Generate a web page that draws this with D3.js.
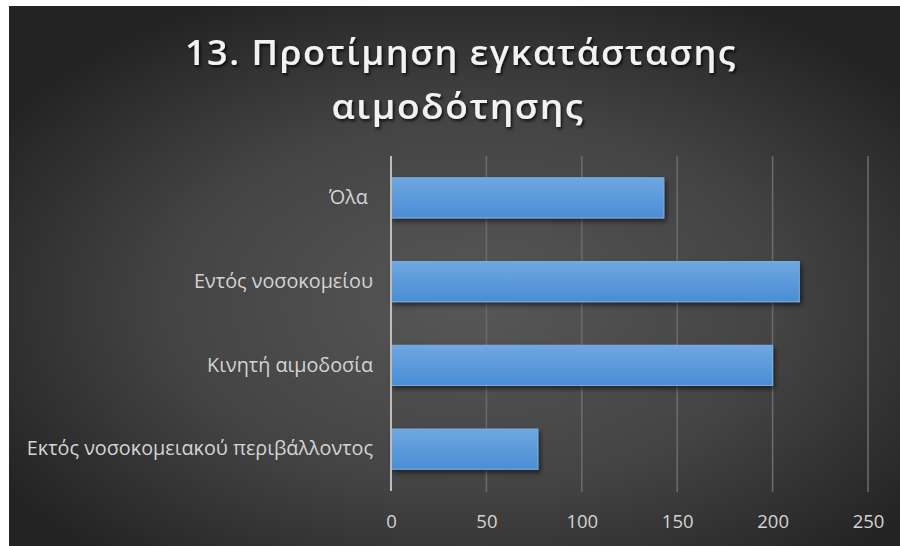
<!DOCTYPE html>
<html>
<head>
<meta charset="utf-8">
<script src="https://cdn.jsdelivr.net/npm/d3@7"></script>
<style>
  html, body { margin: 0; padding: 0; background: #ffffff; }
  svg { display: block; }
  .cat text { white-space: pre; }
</style>
</head>
<body>
<svg id="chart" width="900" height="546"></svg>
<script>
// Survey question 13: preferred blood-donation setting
const categories = ["Όλα ", "Εντός νοσοκομείου", "Κινητή αιμοδοσία", "Εκτός νοσοκομειακού περιβάλλοντος"];
const counts = [143, 214, 200, 77];
const tickValues = [0, 50, 100, 150, 200, 250];
const titleLines = ["13. Προτίμηση εγκατάστασης", "αιμοδότησης"];

const W = 900, H = 546;
const panel = { x: 9, y: 6, w: W - 9, h: H - 6 };
const plot = { left: 391, right: 868, top: 156, bottom: 491 };
const font = "'Open Sans', 'Noto Sans', sans-serif";

const svg = d3.select("#chart");
const defs = svg.append("defs");

// background: soft radial light in the middle, dark towards the edges
const bg = defs.append("radialGradient").attr("id", "bgGrad")
  .attr("cx", "52%").attr("cy", "55%").attr("r", "62%");
bg.append("stop").attr("offset", "0%").attr("stop-color", "#575757");
bg.append("stop").attr("offset", "55%").attr("stop-color", "#444444");
bg.append("stop").attr("offset", "100%").attr("stop-color", "#242424");

// bar fill: lighter top, deeper bottom
const barGrad = defs.append("linearGradient").attr("id", "barGrad")
  .attr("x1", 0).attr("y1", 0).attr("x2", 0).attr("y2", 1);
barGrad.append("stop").attr("offset", "0%").attr("stop-color", "#6fa7e0");
barGrad.append("stop").attr("offset", "100%").attr("stop-color", "#4a8dd4");

const barShadow = defs.append("filter").attr("id", "barShadow")
  .attr("x", "-5%").attr("y", "-20%").attr("width", "115%").attr("height", "160%");
barShadow.append("feDropShadow").attr("dx", 2).attr("dy", 3).attr("stdDeviation", 2.5)
  .attr("flood-color", "#000").attr("flood-opacity", 0.55);

const textShadow = defs.append("filter").attr("id", "textShadow")
  .attr("x", "-5%").attr("y", "-20%").attr("width", "110%").attr("height", "150%");
textShadow.append("feDropShadow").attr("dx", 1.5).attr("dy", 2).attr("stdDeviation", 1.5)
  .attr("flood-color", "#000").attr("flood-opacity", 0.8);

svg.append("rect")
  .attr("x", panel.x).attr("y", panel.y).attr("width", panel.w).attr("height", panel.h)
  .attr("fill", "url(#bgGrad)");

// title
const title = svg.append("g").attr("filter", "url(#textShadow)")
  .attr("fill", "#f2f2f2")
  .attr("font-family", font)
  .attr("font-weight", 600)
  .attr("text-anchor", "middle");
title.append("text").attr("x", 461).attr("y", 65)
  .attr("font-size", 35).attr("letter-spacing", 1.5)
  .attr("textLength", 552).attr("lengthAdjust", "spacingAndGlyphs")
  .text(titleLines[0]);
title.append("text").attr("x", 458).attr("y", 119)
  .attr("font-size", 35).attr("letter-spacing", 1.5)
  .attr("textLength", 253).attr("lengthAdjust", "spacingAndGlyphs")
  .text(titleLines[1]);

// scales
const x = d3.scaleLinear().domain([0, 250]).range([plot.left, plot.right]);
const y = d3.scaleBand().domain(categories).range([plot.top, plot.bottom])
  .paddingInner(0.52).paddingOuter(0.26);

// vertical gridlines
svg.append("g")
  .selectAll("line").data(tickValues.filter(d => d > 0)).join("line")
  .attr("x1", d => x(d)).attr("x2", d => x(d))
  .attr("y1", plot.top).attr("y2", plot.bottom + 1)
  .attr("stroke", "#6a6a6a").attr("stroke-width", 1.6);

// x-axis tick labels
const xAxis = d3.axisBottom(x).tickValues(tickValues).tickSize(0).tickPadding(0);
const xg = svg.append("g").attr("transform", `translate(0, ${plot.bottom + 21})`).call(xAxis);
xg.select(".domain").remove();
xg.selectAll("text")
  .attr("fill", "#d4d4d4")
  .attr("font-family", font)
  .attr("font-size", 18.5)
  .attr("dy", "0.85em");

// bars
svg.append("g").attr("filter", "url(#barShadow)")
  .selectAll("rect").data(categories).join("rect")
  .attr("x", x(0))
  .attr("y", d => y(d))
  .attr("width", (d, i) => x(counts[i]) - x(0))
  .attr("height", y.bandwidth())
  .attr("fill", "url(#barGrad)")
  .attr("stroke", "#7cb0e4").attr("stroke-width", 1);

// category axis
const yAxis = d3.axisLeft(y).tickSize(0).tickPadding(18);
const yg = svg.append("g").attr("class", "cat").attr("transform", `translate(${plot.left}, 0)`).call(yAxis);
yg.select(".domain").remove();
yg.selectAll("text")
  .attr("fill", "#d4d4d4")
  .attr("font-family", font)
  .attr("font-size", 19.8);

// zero line
svg.append("line")
  .attr("x1", x(0)).attr("x2", x(0))
  .attr("y1", plot.top).attr("y2", plot.bottom)
  .attr("stroke", "#bdbdbd").attr("stroke-width", 2);
</script>
</body>
</html>
